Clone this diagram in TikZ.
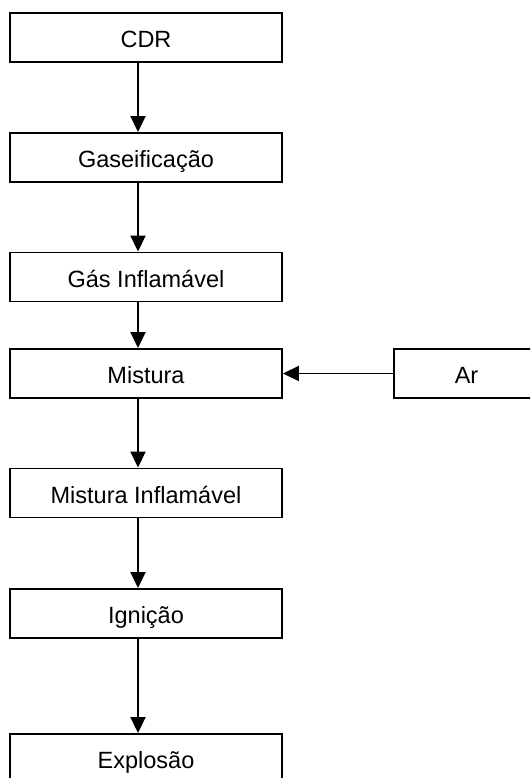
\documentclass[tikz,border=0pt]{standalone}
\usepackage{fontspec}
\setmainfont{Liberation Sans}
\usetikzlibrary{arrows.meta}
\tikzset{
  x=1pt, y=-1pt,
  procbox/.style={draw=black, line width=1.9pt, rectangle, inner sep=0pt,
    minimum width=272pt, minimum height=49pt,
    font=\fontsize{23.5}{27}\selectfont, text height=22pt, text depth=1.6pt},
  flow/.style={draw=black, line width=1.9pt, -{Triangle[length=16pt,width=15pt]}}
}
\begin{document}
\begin{tikzpicture}
\useasboundingbox (0,0) rectangle (530,778);
\clip (0,0) rectangle (530,778);
\node[procbox] (cdr) at (146,37.5) {CDR};
\node[procbox] (gas) at (146,157.5) {Gaseificação};
\node[procbox] (gi) at (146,277) {Gás Inflamável};
\node[procbox] (mis) at (146,373.5) {Mistura};
\node[procbox, minimum width=145pt] (ar) at (466.5,373.5) {Ar};
\node[procbox] (mi) at (146,493) {Mistura Inflamável};
\node[procbox] (ign) at (146,613.5) {Ignição};
\node[procbox] (exp) at (146,758.5) {Explosão};
\draw[flow] ([xshift=-8pt]cdr.south) -- ([xshift=-8pt]gas.north);
\draw[flow] ([xshift=-8pt]gas.south) -- ([xshift=-8pt]gi.north);
\draw[flow] ([xshift=-8pt]gi.south) -- ([xshift=-8pt]mis.north);
\draw[flow] (ar.west) -- (mis.east);
\draw[flow] ([xshift=-8pt]mis.south) -- ([xshift=-8pt]mi.north);
\draw[flow] ([xshift=-8pt]mi.south) -- ([xshift=-8pt]ign.north);
\draw[flow] ([xshift=-8pt]ign.south) -- ([xshift=-8pt]exp.north);
\end{tikzpicture}
\end{document}
